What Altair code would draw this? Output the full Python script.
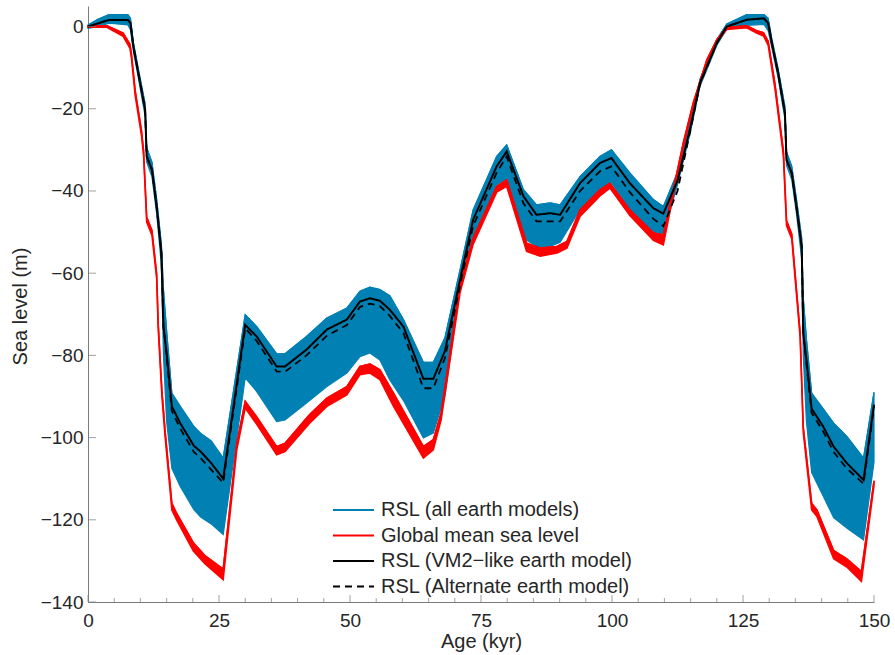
import altair as alt
import pandas as pd

# ---------------- data ----------------
ages_rsl = [0, 2, 4, 7.6, 8.1, 8.65, 9.6, 10.9, 11.2, 12.2,
            13.1, 14.0, 14.4, 15.0, 16.0, 17.6, 20.2, 21.5, 23.5, 25.8,
            30.0, 32.2, 36.0, 37.6, 41.7, 45.6, 49.4, 51.9, 53.8, 55.7,
            57.6, 60.2, 64.0, 65.9, 68.1, 71.0, 73.5, 78.0, 79.9, 83.1,
            85.6, 88.2, 90.1, 93.9, 97.7, 99.9, 103.4, 107.9, 109.8, 112.5,
            115.0, 116.8, 120.0, 121.9, 125.7, 129.0, 129.8, 130.5, 131.7, 133.0,
            133.3, 134.3, 135.2, 136.2, 136.5, 137.1, 138.1, 140.3, 142.3, 144.8,
            148.0, 150.0]

rsl_vm2 = [0, 0.8, 1.6, 1.6, 0.9, -4.8, -11.3, -20.2, -31.6, -34.8,
           -43.8, -55.0, -73.0, -79.4, -92.4, -96.5, -102.0, -103.4, -106.2, -110.0,
           -72.6, -75.4, -82.7, -82.7, -78.6, -73.7, -71.3, -66.9, -66.1, -66.7,
           -68.9, -73.0, -85.7, -85.7, -79.0, -61.6, -47.0, -34.0, -30.4, -41.3,
           -45.8, -45.4, -45.8, -38.1, -33.2, -32.0, -38.1, -44.2, -45.5, -37.5,
           -24.3, -13.7, -4.0, 0.0, 1.65, 2.0, 0.85, -4.0, -11.3, -21.0,
           -32.4, -35.6, -43.8, -53.5, -74.6, -81.0, -93.0, -97.3, -102.2, -106.2,
           -110.3, -92.0]

rsl_alt = [0, 0.8, 1.6, 1.6, 0.9, -4.8, -11.3, -20.2, -31.6, -34.8,
           -43.8, -55.0, -73.0, -80.2, -93.5, -97.8, -103.5, -105.0, -107.8, -111.0,
           -73.4, -76.5, -83.9, -84.0, -80.0, -75.2, -72.6, -68.2, -67.4, -68.0,
           -70.4, -74.6, -88.0, -88.0, -80.7, -63.0, -48.5, -35.5, -31.6, -43.0,
           -47.4, -47.4, -47.4, -40.0, -35.2, -34.0, -40.3, -46.8, -48.6, -40.0,
           -25.0, -14.0, -4.0, 0.0, 1.65, 2.0, 0.85, -4.0, -11.3, -21.0,
           -32.4, -35.6, -43.8, -53.5, -74.6, -81.8, -94.0, -98.5, -103.5, -107.5,
           -111.2, -92.5]

rsl_all_hi = [0.4, 1.8, 2.9, 2.9, 2.0, -3.8, -10.3, -18.8, -29.5, -33.0,
              -42.0, -53.0, -64.0, -74.0, -89.2, -92.4, -97.3, -99.0, -100.8, -105.0,
              -70.1, -73.0, -79.6, -79.6, -75.4, -70.9, -68.5, -64.4, -63.4, -64.0,
              -65.5, -71.3, -81.7, -81.7, -75.8, -59.2, -44.6, -31.6, -28.8, -39.7,
              -43.4, -42.9, -43.4, -36.5, -31.6, -30.0, -35.6, -42.1, -43.8, -35.5,
              -23.0, -12.8, -3.2, 0.6, 2.9, 2.9, 2.0, -3.0, -10.3, -19.5,
              -30.5, -34.0, -42.0, -51.5, -66.0, -76.0, -89.2, -93.0, -96.5, -99.7,
              -105.0, -89.0]

rsl_all_lo = [-0.4, 0.0, 0.8, 0.4, -0.8, -6.0, -12.5, -21.8, -33.0, -36.5,
              -45.5, -58.0, -80.0, -96.0, -107.5, -111.9, -117.5, -119.3, -121.0, -123.6,
              -85.5, -88.8, -96.1, -95.7, -91.6, -87.6, -84.3, -80.3, -79.4, -81.1,
              -86.0, -91.0, -100.1, -98.9, -90.0, -63.5, -51.0, -38.5, -37.0, -51.5,
              -53.5, -53.5, -52.5, -44.5, -39.5, -38.0, -44.5, -50.0, -50.5, -38.5,
              -25.5, -14.5, -4.6, -0.6, 0.3, 0.5, -1.0, -5.2, -12.5, -22.5,
              -33.8, -37.2, -45.5, -56.5, -80.0, -96.0, -108.5, -114.2, -119.5, -122.0,
              -124.9, -106.0]

ages_gmsl = [0, 3.6, 6.7, 8.0, 8.3, 9.0, 10.2, 10.6, 11.2, 12.2,
             13.1, 13.4, 14.1, 14.7, 16.0, 16.9, 20.1, 22.3, 25.8, 28.4,
             30.0, 32.2, 36.0, 37.6, 42.3, 45.6, 49.4, 51.9, 53.8, 55.7,
             58.3, 64.0, 65.9, 67.4, 71.0, 73.5, 78.0, 79.9, 83.7, 86.3,
             89.5, 91.4, 93.9, 97.7, 99.6, 103.4, 107.9, 109.8, 111.7, 113.6,
             115.5, 118.1, 120.0, 121.9, 125.7, 127.6, 128.9, 129.8, 131.1, 132.7,
             133.3, 134.3, 135.9, 136.5, 138.1, 139.1, 142.3, 144.8, 147.6, 150.0]

gmsl_hi = [0.2, 0.2, -1.6, -4.3, -6.8, -15.6, -25.3, -30.2, -46.4, -49.6,
           -60.2, -72.3, -88.5, -98.2, -116.0, -118.4, -125.6, -128.7, -132.0, -101.4,
           -91.2, -95.0, -102.2, -101.4, -94.4, -90.4, -87.6, -82.7, -82.1, -83.5,
           -89.2, -102.2, -100.5, -94.0, -63.0, -51.5, -38.9, -37.3, -52.7, -53.9,
           -53.5, -52.3, -44.6, -39.7, -38.1, -44.6, -50.2, -50.7, -39.7, -28.3,
           -18.6, -8.1, -3.2, -0.2, 0.2, -1.0, -1.5, -3.6, -14.0, -30.2,
           -47.2, -50.5, -74.5, -97.5, -116.0, -117.6, -127.5, -129.5, -132.6, -110.5]

gmsl_lo = [-0.2, -0.2, -2.4, -5.3, -7.8, -16.8, -26.5, -31.4, -47.6, -50.8,
           -61.4, -73.7, -90.0, -99.7, -117.6, -120.0, -127.6, -130.7, -134.6, -103.0,
           -92.8, -96.8, -104.2, -103.4, -96.5, -92.4, -89.6, -84.7, -84.3, -85.9,
           -92.4, -105.0, -103.0, -95.7, -64.8, -53.0, -40.3, -38.9, -54.7, -55.9,
           -55.1, -53.9, -46.2, -41.2, -39.3, -46.0, -52.0, -53.1, -41.0, -29.3,
           -19.4, -8.7, -3.8, -0.7, -0.3, -1.6, -2.3, -4.6, -15.2, -31.4,
           -48.4, -51.7, -75.7, -98.8, -117.6, -119.2, -129.5, -131.5, -135.0, -111.7]

series_names = ["RSL (all earth models)", "Global mean sea level",
                "RSL (VM2\u2212like earth model)", "RSL (Alternate earth model)"]

x_major_ticks = [0, 25, 50, 75, 100, 125, 150]
x_minor_ticks = [5, 10, 15, 20, 30, 35, 40, 45, 55, 60, 65, 70, 80, 85, 90, 95,
                 105, 110, 115, 120, 130, 135, 140, 145]
y_major_ticks = [-140, -120, -100, -80, -60, -40, -20, 0]

# ---------------- styling ----------------
BLUE = "#0080B3"
RED = "#FF0000"
BLACK = "#000000"
AXIS_C = "#7a7a7a"
TEXT_C = "#262626"
FONT = "Liberation Sans"

rsl = pd.DataFrame({"age": ages_rsl, "vm2": rsl_vm2, "alt": rsl_alt,
                    "hi": rsl_all_hi, "lo": rsl_all_lo})
gmsl = pd.DataFrame({"age": ages_gmsl, "hi": gmsl_hi, "lo": gmsl_lo})

line_blue = pd.DataFrame({"age": ages_rsl, "value": rsl_all_hi, "series": series_names[0]})
line_red = pd.DataFrame({"age": ages_gmsl, "value": gmsl_hi, "series": series_names[1]})
line_vm2 = pd.DataFrame({"age": ages_rsl, "value": rsl_vm2, "series": series_names[2]})
line_alt = pd.DataFrame({"age": ages_rsl, "value": rsl_alt, "series": series_names[3]})

xscale = alt.Scale(domain=[0, 150], nice=False, zero=False)
yscale = alt.Scale(domain=[-140, 5], nice=False, zero=False)

x_axis = alt.Axis(values=x_major_ticks, title="Age (kyr)", grid=False, ticks=False,
                  tickSize=0, labelFlush=False, labelPadding=9, labelBaseline="top",
                  labelFontSize=19, titleFontSize=20, titleFontWeight="normal",
                  titleX=393, titleY=45, titleBaseline="alphabetic", titleAlign="center",
                  domainColor=AXIS_C, labelColor=TEXT_C, titleColor=TEXT_C, format="d")
y_axis = alt.Axis(values=y_major_ticks, title="Sea level (m)", grid=False, ticks=False,
                  tickSize=0, labelFlush=False, labelPadding=5, labelBaseline="middle",
                  labelFontSize=19, titleFontSize=20, titleFontWeight="normal",
                  titleX=-68, titleY=300, titleAngle=270, titleBaseline="middle",
                  titleAlign="center",
                  domainColor=AXIS_C, labelColor=TEXT_C, titleColor=TEXT_C, format="d")

# short, wide line symbol: unit path scaled by sqrt(400)/2 = 10 -> 41 px long
legend = alt.Legend(title=None, orient="none", legendX=244, legendY=493,
                    symbolType="M-1,0H3.1", symbolSize=400, symbolStrokeWidth=2,
                    labelFontSize=20, labelFont=FONT, labelColor=TEXT_C,
                    labelOffset=27, rowPadding=4.5, padding=0, labelLimit=500)

color_enc = alt.Color("series:N", scale=alt.Scale(domain=series_names,
                      range=[BLUE, RED, BLACK, BLACK]), legend=legend)
dash_enc = alt.StrokeDash("series:N", scale=alt.Scale(domain=series_names,
                          range=[[1, 0], [1, 0], [1, 0], [7, 5]]), legend=legend)

X_AGE = alt.X("age:Q", scale=xscale, axis=x_axis)

blue_area = alt.Chart(rsl).mark_area(color=BLUE, stroke=BLUE, strokeWidth=1.2).encode(
    x=X_AGE, y=alt.Y("hi:Q", scale=yscale, axis=y_axis), y2="lo:Q")

red_area = alt.Chart(gmsl).mark_area(color=RED, stroke=RED, strokeWidth=1.5).encode(
    x=X_AGE, y=alt.Y("hi:Q", scale=yscale, axis=y_axis), y2="lo:Q")


def line_layer(df, width):
    return alt.Chart(df).mark_line(strokeWidth=width).encode(
        x=X_AGE,
        y=alt.Y("value:Q", scale=yscale, axis=y_axis),
        color=color_enc, strokeDash=dash_enc, order="age:Q")


xt_major = alt.Chart(pd.DataFrame({"t": x_major_ticks})).mark_tick(
    orient="vertical", size=7, thickness=1, yOffset=-3.5, color=AXIS_C).encode(
    x=alt.X("t:Q", scale=xscale, axis=x_axis),
    y=alt.YDatum(-140, scale=yscale, axis=y_axis))
xt_minor = alt.Chart(pd.DataFrame({"t": x_minor_ticks})).mark_tick(
    orient="vertical", size=4, thickness=1, yOffset=-2, color=AXIS_C).encode(
    x=alt.X("t:Q", scale=xscale, axis=x_axis),
    y=alt.YDatum(-140, scale=yscale, axis=y_axis))
yt_major = alt.Chart(pd.DataFrame({"t": y_major_ticks})).mark_tick(
    orient="horizontal", size=8, thickness=1, xOffset=4, color=AXIS_C).encode(
    y=alt.Y("t:Q", scale=yscale, axis=y_axis),
    x=alt.XDatum(0, scale=xscale, axis=x_axis))

chart = alt.layer(
    blue_area,
    line_layer(line_blue, 1.2),
    red_area,
    line_layer(line_red, 1.5),
    line_layer(line_vm2, 2),
    line_layer(line_alt, 1.8),
    xt_major, xt_minor, yt_major,
).properties(
    width=786, height=596,
    autosize=alt.AutoSizeParams(type="none"),
    padding={"left": 88, "top": 6, "right": 21, "bottom": 53},
).configure(font=FONT).configure_view(stroke=None).configure_axis(
    labelFont=FONT, titleFont=FONT)

chart.save("out.html", embed_options={"renderer": "svg", "actions": False})
